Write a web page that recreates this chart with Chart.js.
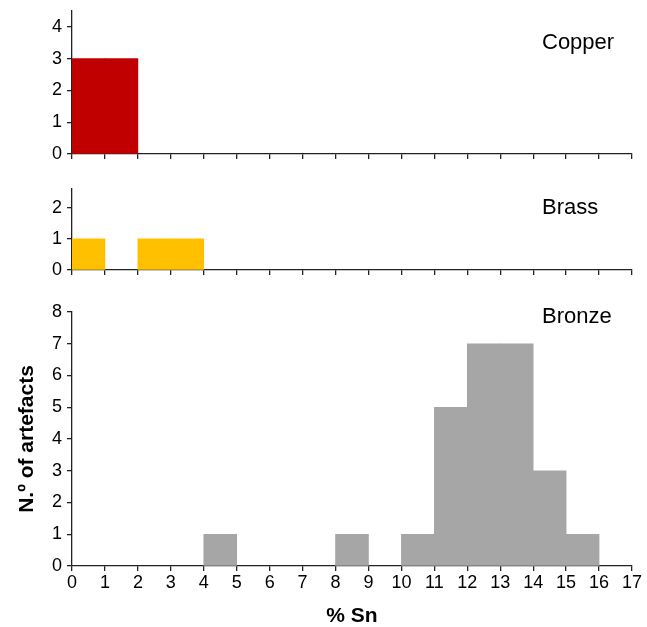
<!DOCTYPE html>
<html>
<head>
<meta charset="utf-8">
<script src="https://cdn.jsdelivr.net/npm/chart.js@4/dist/chart.umd.min.js"></script>
<style>
  html, body { margin: 0; padding: 0; background: #fff; }
  #wrap { position: relative; width: 647px; height: 627px; }
  canvas { position: absolute; left: 0; }
</style>
</head>
<body>
<div id="wrap">
  <canvas id="chCopper" width="647" height="162" style="top:0px"></canvas>
  <canvas id="chBrass" width="647" height="100" style="top:178px"></canvas>
  <canvas id="chBronze" width="647" height="337" style="top:290px"></canvas>
</div>
<script>
// % Sn bins: each bar covers [bin, bin + 1)
var bins = [0, 1, 2, 3, 4, 5, 6, 7, 8, 9, 10, 11, 12, 13, 14, 15, 16];
var copperCounts = [3, 3, 0, 0, 0, 0, 0, 0, 0, 0, 0, 0, 0, 0, 0, 0, 0];
var brassCounts  = [1, 0, 1, 1, 0, 0, 0, 0, 0, 0, 0, 0, 0, 0, 0, 0, 0];
var bronzeCounts = [0, 0, 0, 0, 1, 0, 0, 0, 1, 0, 1, 5, 7, 7, 3, 1, 0];
var xTicks = [0, 1, 2, 3, 4, 5, 6, 7, 8, 9, 10, 11, 12, 13, 14, 15, 16, 17];
var copperYTicks = [0, 1, 2, 3, 4];
var brassYTicks = [0, 1, 2];
var bronzeYTicks = [0, 1, 2, 3, 4, 5, 6, 7, 8];

Chart.defaults.font.family = '"Liberation Sans", Arial, sans-serif';
Chart.defaults.color = '#000';

// turn the counts into bars placed at the middle of each bin
function toBars(counts) {
  var pts = [];
  bins.forEach(function (b, i) {
    if (counts[i] > 0) pts.push({ x: b + 0.5, y: counts[i] });
  });
  return pts;
}

// alloy name written inside each panel
var panelLabel = {
  id: 'panelLabel',
  afterDraw: function (chart, args, opts) {
    var ctx = chart.ctx;
    ctx.save();
    ctx.font = '22px "Liberation Sans", Arial, sans-serif';
    ctx.fillStyle = '#000';
    ctx.textAlign = 'left';
    ctx.textBaseline = 'middle';
    ctx.fillText(opts.text, opts.x, opts.y);
    ctx.restore();
  }
};

function makePanel(id, counts, color, yMax, yTicks, label, labelY, isBottom) {
  var tickFont = { size: 18 };
  return new Chart(document.getElementById(id), {
    type: 'bar',
    data: {
      datasets: [{
        data: toBars(counts),
        backgroundColor: color,
        borderWidth: 0,
        barPercentage: 1,
        categoryPercentage: 1
      }]
    },
    options: {
      responsive: false,
      animation: false,
      layout: { padding: { top: isBottom ? 22 : 11, right: 15, bottom: 0, left: 0 } },
      plugins: {
        legend: { display: false },
        tooltip: { enabled: false },
        panelLabel: { text: label, x: 542, y: labelY }
      },
      scales: {
        x: {
          type: 'linear',
          offset: false,
          min: xTicks[0],
          max: xTicks[xTicks.length - 1],
          ticks: {
            display: isBottom,
            stepSize: 1,
            autoSkip: false,
            maxRotation: 0,
            padding: 1,
            font: tickFont
          },
          afterBuildTicks: function (s) {
            s.ticks = xTicks.map(function (v) { return { value: v }; });
          },
          grid: { offset: false, drawOnChartArea: false, drawTicks: true, tickLength: 5, color: '#222', lineWidth: 1.3 },
          border: { display: true, color: '#222', width: 1.3 },
          title: {
            display: isBottom,
            text: '% Sn',
            font: { size: 21, weight: 'bold', lineHeight: 1 },
            padding: { top: 0, bottom: 0 }
          },
          afterFit: function (s) {
            s.height = isBottom ? 61 : 8;
            s.paddingLeft = 0;
            s.paddingRight = 0;
          }
        },
        y: {
          min: 0,
          max: yMax,
          ticks: { stepSize: 1, padding: 5, font: tickFont },
          afterBuildTicks: function (s) {
            s.ticks = yTicks.map(function (v) { return { value: v }; });
          },
          grid: { drawOnChartArea: false, drawTicks: true, tickLength: 5, color: '#222', lineWidth: 1.3 },
          border: { display: true, color: '#222', width: 1.3 },
          title: {
            display: isBottom,
            text: 'N.º of artefacts',
            font: { size: 21, weight: 'bold', lineHeight: 1 },
            padding: { top: 17, bottom: 0 }
          },
          afterFit: function (s) {
            s.width = 72;
            s.paddingTop = 0;
            s.paddingBottom = 0;
          }
        }
      }
    },
    plugins: [panelLabel]
  });
}

makePanel('chCopper', copperCounts, '#c00000', 4.5, copperYTicks, 'Copper', 43, false);
makePanel('chBrass', brassCounts, '#ffc000', 2.6, brassYTicks, 'Brass', 30, false);
makePanel('chBronze', bronzeCounts, '#a6a6a6', 8, bronzeYTicks, 'Bronze', 27, true);
</script>
</body>
</html>
